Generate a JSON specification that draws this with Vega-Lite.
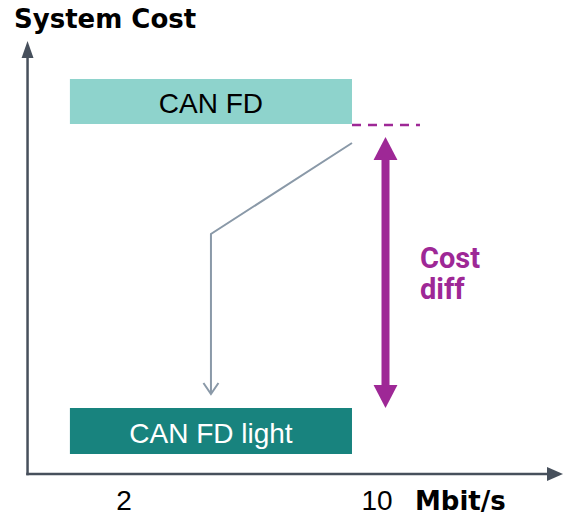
{
  "$schema": "https://vega.github.io/schema/vega-lite/v6.json",
  "width": 568,
  "height": 515,
  "padding": 0,
  "autosize": "none",
  "config": {"view": {"stroke": null}},
  "encoding": {
    "x": {"field": "x", "type": "quantitative", "axis": null, "scale": {"domain": [-1.921, 16.041], "nice": false, "zero": false}},
    "y": {"field": "y", "type": "quantitative", "axis": null, "scale": {"domain": [-4.1, 47.4], "nice": false, "zero": false}}
  },
  "layer": [
    {
      "data": {"values": [
        {"axis": "cost", "x": -1.05, "y": 0, "x2": -1.05, "y2": 42.4},
        {"axis": "rate", "x": -1.05, "y": 0, "x2": 15.47, "y2": 0}
      ]},
      "mark": {"type": "rule", "color": "#47505c", "strokeWidth": 2.5, "strokeCap": "square"},
      "encoding": {"x2": {"field": "x2"}, "y2": {"field": "y2"}}
    },
    {
      "data": {"values": [{"x": -1.05, "y": 42.45}]},
      "mark": {"type": "point", "shape": "M0,-1L0.7,1L-0.7,1Z", "size": 289, "filled": true, "color": "#47505c", "opacity": 1, "strokeWidth": 0}
    },
    {
      "data": {"values": [{"x": 15.63, "y": 0}]},
      "mark": {"type": "point", "shape": "M1,0L-1,0.875L-1,-0.875Z", "size": 256, "filled": true, "color": "#47505c", "opacity": 1, "strokeWidth": 0}
    },
    {
      "data": {"values": [
        {"label": "CAN FD", "x": 0.29, "x2": 9.21, "y": 39.5, "y2": 35.0},
        {"label": "CAN FD light", "x": 0.29, "x2": 9.21, "y": 6.6, "y2": 2.0}
      ]},
      "mark": {"type": "rect"},
      "encoding": {
        "x2": {"field": "x2"},
        "y2": {"field": "y2"},
        "color": {"field": "label", "type": "nominal", "legend": null, "scale": {"domain": ["CAN FD", "CAN FD light"], "range": ["#8ed3cc", "#18837e"]}}
      }
    },
    {
      "data": {"values": [{"label": "CAN FD", "x": 4.75, "y": 36.1}]},
      "mark": {"type": "text", "font": "Liberation Sans", "fontSize": 28, "align": "center", "baseline": "alphabetic", "color": "#000000"},
      "encoding": {"text": {"field": "label"}}
    },
    {
      "data": {"values": [{"label": "CAN FD light", "x": 4.75, "y": 3.1}]},
      "mark": {"type": "text", "font": "Liberation Sans", "fontSize": 28, "align": "center", "baseline": "alphabetic", "color": "#ffffff"},
      "encoding": {"text": {"field": "label"}}
    },
    {
      "data": {"values": [{"x": 9.21, "x2": 11.36, "y": 34.9}]},
      "mark": {"type": "rule", "color": "#9e2896", "strokeWidth": 2.5, "strokeDash": [9, 7]},
      "encoding": {"x2": {"field": "x2"}}
    },
    {
      "data": {"values": [{"x": 10.27, "y": 7.9, "y2": 32.4}]},
      "mark": {"type": "rule", "color": "#9e2896", "strokeWidth": 8},
      "encoding": {"y2": {"field": "y2"}}
    },
    {
      "data": {"values": [{"x": 10.27, "y": 32.55}]},
      "mark": {"type": "point", "shape": "M0,-1L1.04,1L-1.04,1Z", "size": 529, "filled": true, "color": "#9e2896", "opacity": 1, "strokeWidth": 0}
    },
    {
      "data": {"values": [{"x": 10.27, "y": 7.75}]},
      "mark": {"type": "point", "shape": "M0,1L1.04,-1L-1.04,-1Z", "size": 529, "filled": true, "color": "#9e2896", "opacity": 1, "strokeWidth": 0}
    },
    {
      "data": {"values": [
        {"step": 1, "x": 9.21, "y": 33.1},
        {"step": 2, "x": 4.75, "y": 24.0},
        {"step": 3, "x": 4.75, "y": 8.1}
      ]},
      "mark": {"type": "line", "color": "#8a99a8", "strokeWidth": 2},
      "encoding": {"order": {"field": "step", "type": "quantitative"}}
    },
    {
      "data": {"values": [{"x": 4.75, "y": 8.55}]},
      "mark": {"type": "point", "shape": "M-1,-0.73L0,0.73L1,-0.73", "size": 225, "filled": false, "color": "#8a99a8", "opacity": 1, "strokeWidth": 2}
    },
    {
      "data": {"values": [
        {"text": "Cost", "x": 11.36, "y": 20.6},
        {"text": "diff", "x": 11.36, "y": 17.5}
      ]},
      "mark": {"type": "text", "font": "Roboto", "fontWeight": "bold", "fontSize": 29, "align": "left", "baseline": "alphabetic", "color": "#9e2896"},
      "encoding": {"text": {"field": "text"}}
    },
    {
      "data": {"values": [{"text": "System Cost", "x": -1.478, "y": 44.6}]},
      "mark": {"type": "text", "font": "DejaVu Sans", "fontWeight": "bold", "fontSize": 26, "align": "left", "baseline": "alphabetic", "color": "#000000"},
      "encoding": {"text": {"field": "text"}}
    },
    {
      "data": {"values": [
        {"text": "2", "x": 2, "y": -3.6},
        {"text": "10", "x": 10, "y": -3.6}
      ]},
      "mark": {"type": "text", "font": "Liberation Sans", "fontSize": 28, "align": "center", "baseline": "alphabetic", "color": "#000000"},
      "encoding": {"text": {"field": "text"}}
    },
    {
      "data": {"values": [{"text": "Mbit/s", "x": 11.2, "y": -3.6}]},
      "mark": {"type": "text", "font": "DejaVu Sans", "fontWeight": "bold", "fontSize": 26, "align": "left", "baseline": "alphabetic", "color": "#000000"},
      "encoding": {"text": {"field": "text"}}
    }
  ]
}
